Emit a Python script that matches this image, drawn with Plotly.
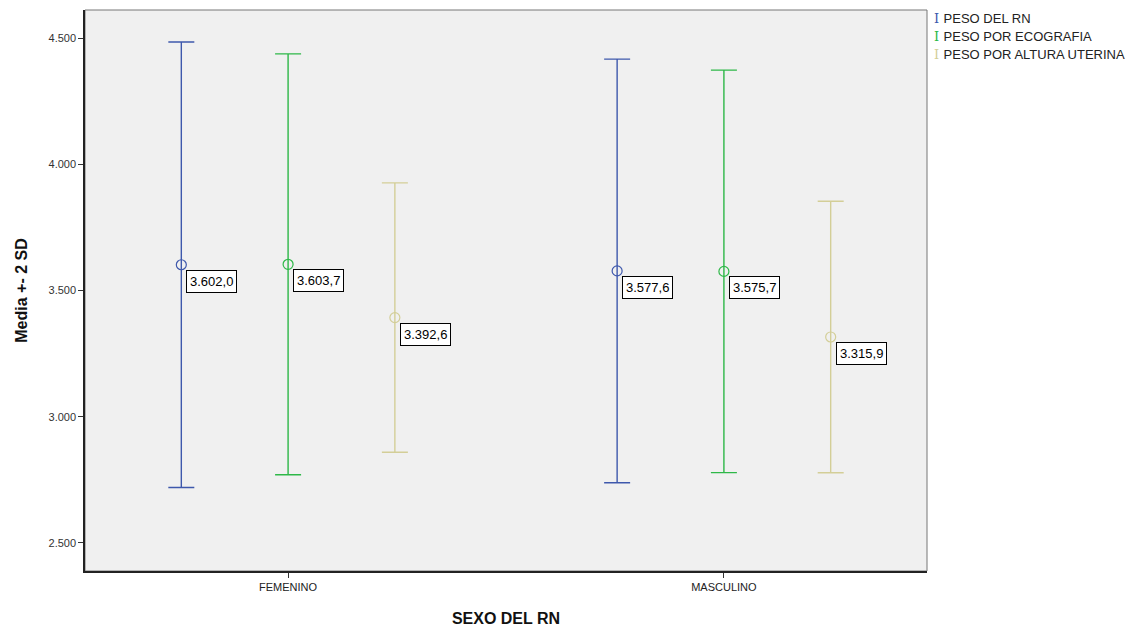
import plotly.graph_objects as go

# Categories, series and summary values (mean and 2*SD)
categories = ["FEMENINO", "MASCULINO"]
series_names = ["PESO DEL RN", "PESO POR ECOGRAFIA", "PESO POR ALTURA UTERINA"]
means = {
    "PESO DEL RN": [3602.0, 3577.6],
    "PESO POR ECOGRAFIA": [3603.7, 3575.7],
    "PESO POR ALTURA UTERINA": [3392.6, 3315.9],
}
two_sd = {
    "PESO DEL RN": [882.5, 839.0],
    "PESO POR ECOGRAFIA": [833.5, 797.0],
    "PESO POR ALTURA UTERINA": [533.5, 537.5],
}
y_ticks = [2500, 3000, 3500, 4000, 4500]

colors = ["#3E58AC", "#2EB848", "#D3CE97"]
offsets = [-0.245, 0.0, 0.245]


def fmt_es(v):
    s = f"{v:,.1f}"
    return s.replace(",", "#").replace(".", ",").replace("#", ".")


fig = go.Figure()
annotations = []
for name, col, off in zip(series_names, colors, offsets):
    xs = [i + off for i in range(len(categories))]
    fig.add_trace(go.Scatter(
        x=xs, y=means[name], mode="markers", name=name, showlegend=False,
        marker=dict(symbol="circle-open", size=10, color=col, line=dict(width=1.2, color=col)),
        error_y=dict(type="data", array=two_sd[name], symmetric=True,
                     color=col, thickness=1.4, width=13),
        hoverinfo="skip",
    ))
    for x, m in zip(xs, means[name]):
        annotations.append(dict(
            x=x, y=m, xref="x", yref="y", text=fmt_es(m), showarrow=False,
            xanchor="left", yanchor="top", xshift=5, yshift=-5,
            font=dict(family="Liberation Sans, Arial", size=13, color="black"),
            bgcolor="white", bordercolor="black", borderwidth=1, borderpad=3,
        ))

# Legend: an "I" glyph in the series colour followed by the series name
legend_rows_y = [0.9840, 0.9519, 0.9198]
for name, col, ly in zip(series_names, colors, legend_rows_y):
    annotations.append(dict(
        x=1.0055, y=ly, xref="paper", yref="paper", showarrow=False,
        xanchor="left", yanchor="middle",
        text=(f"<span style='font-family:DejaVu Serif;color:{col}'>I</span>"
              f"<span style='font-size:3px'> </span> {name}"),
        font=dict(family="Liberation Sans, Arial", size=13, color="#222"),
    ))

fig.update_layout(
    width=1141, height=631,
    margin=dict(l=85, r=214, t=10, b=60),
    paper_bgcolor="white", plot_bgcolor="#F0F0F0",
    separators=",.",
    showlegend=False,
    font=dict(family="Liberation Sans, Arial", color="#222"),
    annotations=annotations,
    xaxis=dict(
        range=[-0.466, 1.466], tickvals=list(range(len(categories))), ticktext=categories,
        showgrid=False, zeroline=False, ticks="outside", ticklen=5, tickcolor="#333",
        tickfont=dict(size=11, color="#222"), automargin=False,
        showline=True, linecolor="#222", linewidth=1.5, mirror=False,
        title=dict(text="<b>SEXO DEL RN</b>", font=dict(size=16, color="#111"), standoff=21),
    ),
    yaxis=dict(
        range=[2389, 4611], tickvals=y_ticks, tickformat=",.0f",
        showgrid=False, zeroline=False, ticks="outside", ticklen=5, tickcolor="#333",
        tickfont=dict(size=11, color="#333"), automargin=False,
        showline=True, linecolor="#222", linewidth=1.5,
        title=dict(text="<b>Media +- 2 SD</b>", font=dict(size=16, color="#111"), standoff=17),
    ),
    shapes=[dict(type="rect", xref="paper", yref="paper", x0=0, y0=0, x1=1, y1=1,
                 line=dict(color="#777", width=1), fillcolor="rgba(0,0,0,0)", layer="below")],
)

fig.write_html("out.html")
